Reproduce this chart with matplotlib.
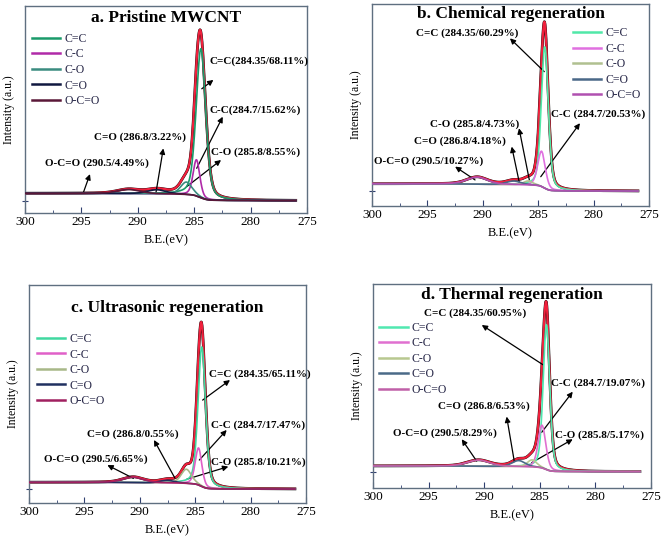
import numpy as np
import matplotlib
matplotlib.use('Agg')
import matplotlib.pyplot as plt

plt.rcParams['font.family'] = 'Liberation Serif'

W, H = 661, 538

# components, same order in every panel
components = ['C=C', 'C-C', 'C-O', 'C=O', 'O-C=O']

# fitted peak parameters (BE in eV, height in axis fraction)
centers_a = [284.4, 284.8, 285.7, 288.3, 290.8]
heights_a = [0.72, 0.175, 0.06, 0.02, 0.02]
fwhm_a = [1.0, 0.7, 1.2, 2.0, 2.4]

centers_b = [284.4, 284.7, 285.9, 287.2, 290.5]
heights_b = [0.70, 0.175, 0.02, 0.018, 0.035]
fwhm_b = [0.75, 0.8, 1.0, 1.6, 2.2]

centers_c = [284.4, 284.7, 285.8, 287.5, 290.6]
heights_c = [0.64, 0.17, 0.065, 0.012, 0.025]
fwhm_c = [0.8, 0.7, 1.1, 1.5, 2.2]

centers_d = [284.4, 284.8, 285.7, 286.9, 290.5]
heights_d = [0.71, 0.21, 0.035, 0.03, 0.03]
fwhm_d = [0.7, 0.8, 1.0, 1.4, 2.4]

# background levels (high-BE side, low-BE side)
bg_a = (0.095, 0.06)
bg_b = (0.11, 0.074)
bg_c = (0.095, 0.064)
bg_d = (0.108, 0.08)

titles = ['a. Pristine MWCNT', 'b. Chemical regeneration',
          'c. Ultrasonic regeneration', 'd. Thermal regeneration']

labels_a = ['C=C(284.35/68.11%)', 'C-C(284.7/15.62%)', 'C-O (285.8/8.55%)',
            'C=O (286.8/3.22%)', 'O-C=O (290.5/4.49%)']
labels_b = ['C=C (284.35/60.29%)', 'C-C (284.7/20.53%)', 'C-O (285.8/4.73%)',
            'C=O (286.8/4.18%)', 'O-C=O (290.5/10.27%)']
labels_c = ['C=C (284.35/65.11%)', 'C-C (284.7/17.47%)', 'C-O (285.8/10.21%)',
            'C=O (286.8/0.55%)', 'O-C=O (290.5/6.65%)']
labels_d = ['C=C (284.35/60.95%)', 'C-C (284.7/19.07%)', 'C-O (285.8/5.17%)',
            'C=O (286.8/6.53%)', 'O-C=O (290.5/8.29%)']

colors_a = ['#1a9a6a', '#b02aa8', '#3a8c80', '#101840', '#5a1838']
colors_b = ['#50e8a8', '#e070e0', '#b0c090', '#4a6888', '#b050b0']
colors_c = ['#40d8a0', '#e060c8', '#a8b888', '#203060', '#a02060']
colors_d = ['#50e8b0', '#e070d0', '#b8c890', '#4a6a88', '#c060a8']

# layout: axes boxes in pixels (left, top, right, bottom)
boxes = [(25, 6, 307, 213), (372, 4, 649, 206), (29, 285, 306, 503), (373, 284, 651, 488)]

# annotation layout per panel: (text x, text y, head x, head y, tail x, tail y)
notes_a = [(283.66, 0.731, 283.3, 0.643, 284.33, 0.60),
           (283.66, 0.498, 282.47, 0.465, 284.78, 0.216),
           (283.54, 0.296, 282.62, 0.256, 285.67, 0.127),
           (293.86, 0.366, 287.74, 0.312, 288.39, 0.098),
           (298.23, 0.240, 294.24, 0.188, 294.83, 0.098)]
notes_b = [(296.03, 0.855, 287.55, 0.83, 284.45, 0.665),
           (283.87, 0.455, 281.23, 0.41, 284.77, 0.145),
           (294.77, 0.405, 286.73, 0.385, 285.8, 0.129),
           (296.2, 0.320, 287.39, 0.294, 286.7, 0.115),
           (299.79, 0.223, 292.5, 0.195, 290.7, 0.129)]
notes_c = [(283.73, 0.592, 281.86, 0.564, 284.33, 0.472),
           (283.6, 0.358, 282.16, 0.335, 284.63, 0.197),
           (283.6, 0.187, 282.01, 0.167, 285.77, 0.109),
           (294.74, 0.315, 288.72, 0.289, 286.82, 0.113),
           (298.62, 0.200, 292.93, 0.174, 290.58, 0.113)]
notes_d = [(295.39, 0.856, 290.22, 0.799, 284.68, 0.603),
           (284.02, 0.513, 282.04, 0.472, 284.83, 0.273),
           (283.63, 0.260, 282.04, 0.239, 285.73, 0.124),
           (294.13, 0.399, 287.98, 0.35, 287.29, 0.129),
           (298.23, 0.271, 292.02, 0.239, 290.68, 0.132)]

legend_pos = [(0.024, 0.87), (0.725, 0.885), (0.028, 0.78), (0.023, 0.815)]
title_y = [0.94, 0.95, 0.895, 0.946]

panels = [
    (centers_a, heights_a, fwhm_a, bg_a, labels_a, colors_a, notes_a),
    (centers_b, heights_b, fwhm_b, bg_b, labels_b, colors_b, notes_b),
    (centers_c, heights_c, fwhm_c, bg_c, labels_c, colors_c, notes_c),
    (centers_d, heights_d, fwhm_d, bg_d, labels_d, colors_d, notes_d),
]

be = np.linspace(276, 300, 1200)


def pseudo_voigt(x, c, h, w, eta=0.35):
    g = np.exp(-4 * np.log(2) * ((x - c) / w) ** 2)
    l = 1 / (1 + 4 * ((x - c) / w) ** 2)
    return h * (eta * l + (1 - eta) * g)


fig = plt.figure(figsize=(W / 100, H / 100), dpi=100)
spine_col = '#5f6f80'

for i, (cen, hts, wid, bg, labs, cols, notes) in enumerate(panels):
    l, t, r, b = boxes[i]
    ax = fig.add_axes([l / W, 1 - b / H, (r - l) / W, (b - t) / H])

    peaks = [pseudo_voigt(be, c, h, w) for c, h, w in zip(cen, hts, wid)]
    total = np.sum(peaks, axis=0)
    # Shirley-type background built from the peak areas
    cum = np.cumsum(total)
    background = bg[1] + (bg[0] - bg[1]) * cum / cum[-1]

    envelope = background + total
    ax.plot(be, envelope, color='black', lw=2.0, zorder=2)
    ax.plot(be, envelope, color='#f0203c', lw=1.6, zorder=3)
    for p, col, name in zip(peaks, cols, components):
        ax.plot(be, background + p, color=col, lw=1.2, label=name, zorder=4)

    ax.set_xlim(300, 275)
    ax.set_ylim(0, 1)
    ax.set_xticks([300, 295, 290, 285, 280, 275])
    ax.set_xticks(np.arange(275, 300, 2.5), minor=True)
    ax.set_yticks([bg[1]])
    ax.tick_params(axis='x', which='major', direction='in', length=4,
                   color='#304070', labelsize=9.5, pad=2.5)
    ax.tick_params(axis='x', which='minor', direction='in', length=2, color='#304070')
    ax.tick_params(axis='y', direction='inout', length=5, color='#304070',
                   labelleft=False)
    for s in ax.spines.values():
        s.set_color(spine_col)
        s.set_linewidth(1.0)

    ax.set_xlabel('B.E.(eV)', fontsize=9, labelpad=4)
    ax.set_ylabel('Intensity (a.u.)', fontsize=8.5, labelpad=5)
    ax.text(0.5, title_y[i], titles[i], transform=ax.transAxes, ha='center',
            va='center', fontsize=12.5, fontweight='bold')

    for lab, (tx, ty, hx, hy, sx, sy) in zip(labs, notes):
        ax.text(tx, ty, lab, fontsize=8, fontweight='bold', ha='left', va='center')
        ax.annotate('', xy=(hx, hy), xytext=(sx, sy),
                    arrowprops=dict(arrowstyle='-|>', color='black', lw=0.9,
                                    mutation_scale=8, shrinkA=0, shrinkB=0))

    leg = ax.legend(loc='upper left', bbox_to_anchor=legend_pos[i], frameon=False,
                    fontsize=8.5, handlelength=2.4, handletextpad=0.35,
                    labelspacing=0.3, borderpad=0, borderaxespad=0)
    for txt in leg.get_texts():
        txt.set_color('#2a2a4a')
    for ln in leg.get_lines():
        ln.set_linewidth(1.8)

fig.savefig('out.png', dpi=100)
